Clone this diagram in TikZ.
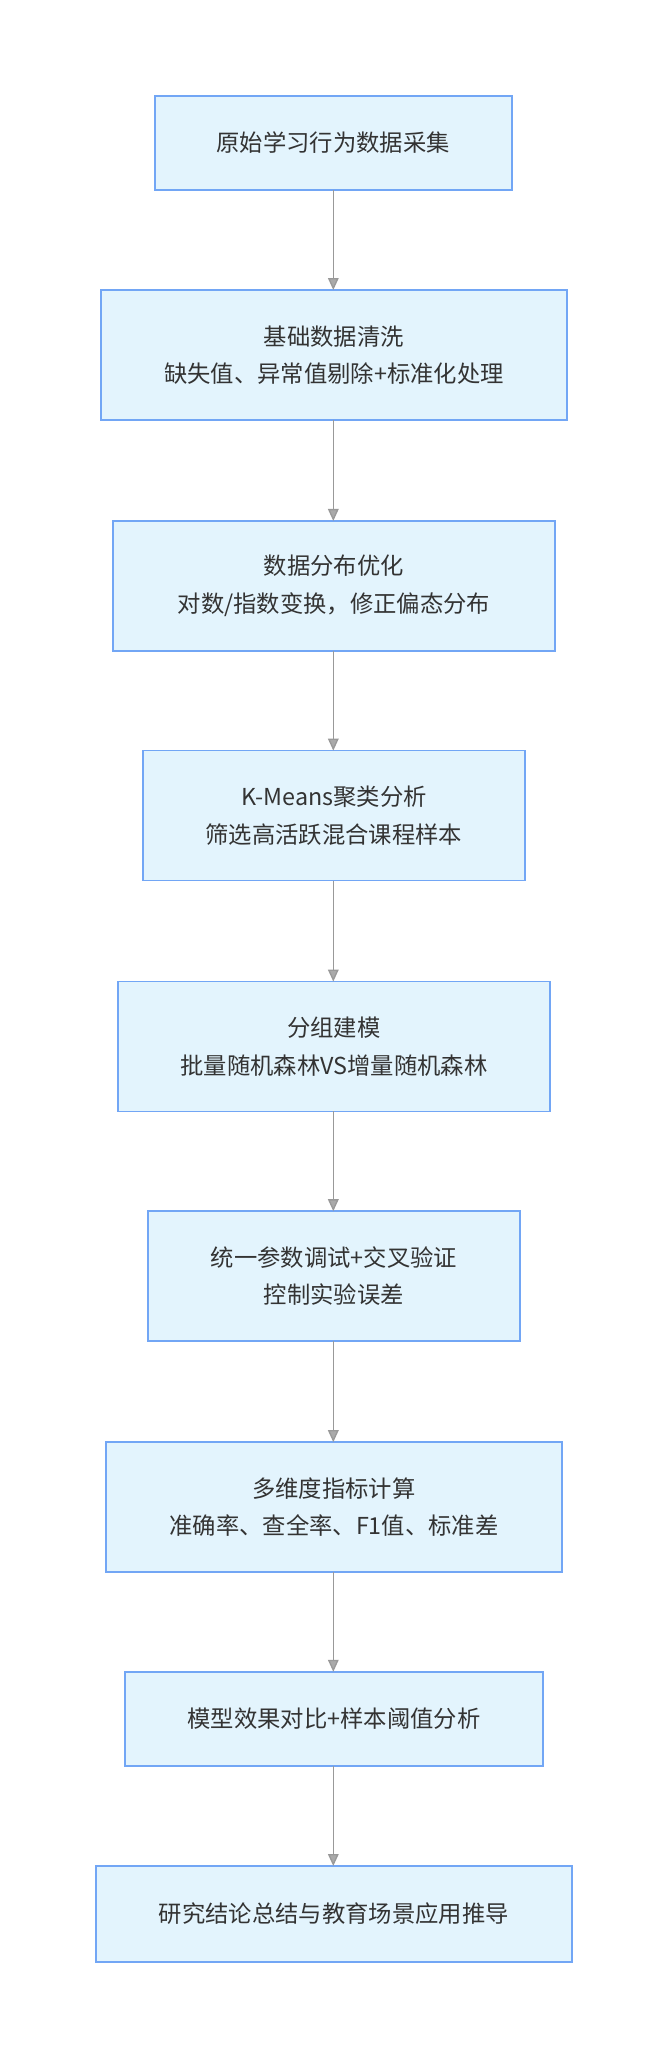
\documentclass[tikz,border=0pt]{standalone}
\usepackage{fontspec}
\setmainfont{Noto Sans CJK SC}
\usetikzlibrary{arrows.meta}
\definecolor{bfill}{HTML}{E3F4FD}
\definecolor{bdraw}{HTML}{72A6F5}
\definecolor{lgray}{HTML}{999999}
\definecolor{tipfill}{HTML}{AAAAAA}
\begin{document}
\begin{tikzpicture}[x=0.984375pt,y=-0.984375pt,
  box/.style={draw=bdraw,fill=bfill,line width=1.3pt},
  lbl/.style={font=\fontsize{17.5pt}{28pt}\selectfont,text=black!80,align=center},
  arr/.style={draw=lgray,line width=1pt,-{Triangle[length=9pt,width=8pt,fill=tipfill]}}]
\useasboundingbox (0,0) rectangle (512,1579);
\newcommand{\bx}[6]{\draw[box] (#2,#3) rectangle (#4,#5); \node[lbl] (#1) at ({(#2+#4)/2},{(#3+#5)/2}) {#6};
  \coordinate (#1t) at (254,#3); \coordinate (#1b) at (254,#5);}
\bx{a}{118}{73}{390}{145}{原始学习行为数据采集}
\bx{b}{77}{221}{432}{320}{基础数据清洗\\缺失值、异常值剔除+标准化处理}
\bx{c}{86}{397}{423}{496}{数据分布优化\\对数/指数变换，修正偏态分布}
\bx{d}{109}{572}{400}{671}{K-Means聚类分析\\筛选高活跃混合课程样本}
\bx{e}{90}{748}{419}{847}{分组建模\\批量随机森林VS增量随机森林}
\bx{f}{113}{923}{396}{1022}{统一参数调试+交叉验证\\控制实验误差}
\bx{g}{81}{1099}{428}{1198}{多维度指标计算\\准确率、查全率、F1值、标准差}
\bx{h}{95}{1274}{414}{1346}{模型效果对比+样本阈值分析}
\bx{i}{73}{1422}{436}{1495}{研究结论总结与教育场景应用推导}
\draw[arr] (ab) -- (bt);
\draw[arr] (bb) -- (ct);
\draw[arr] (cb) -- (dt);
\draw[arr] (db) -- (et);
\draw[arr] (eb) -- (ft);
\draw[arr] (fb) -- (gt);
\draw[arr] (gb) -- (ht);
\draw[arr] (hb) -- (it);
\end{tikzpicture}
\end{document}
